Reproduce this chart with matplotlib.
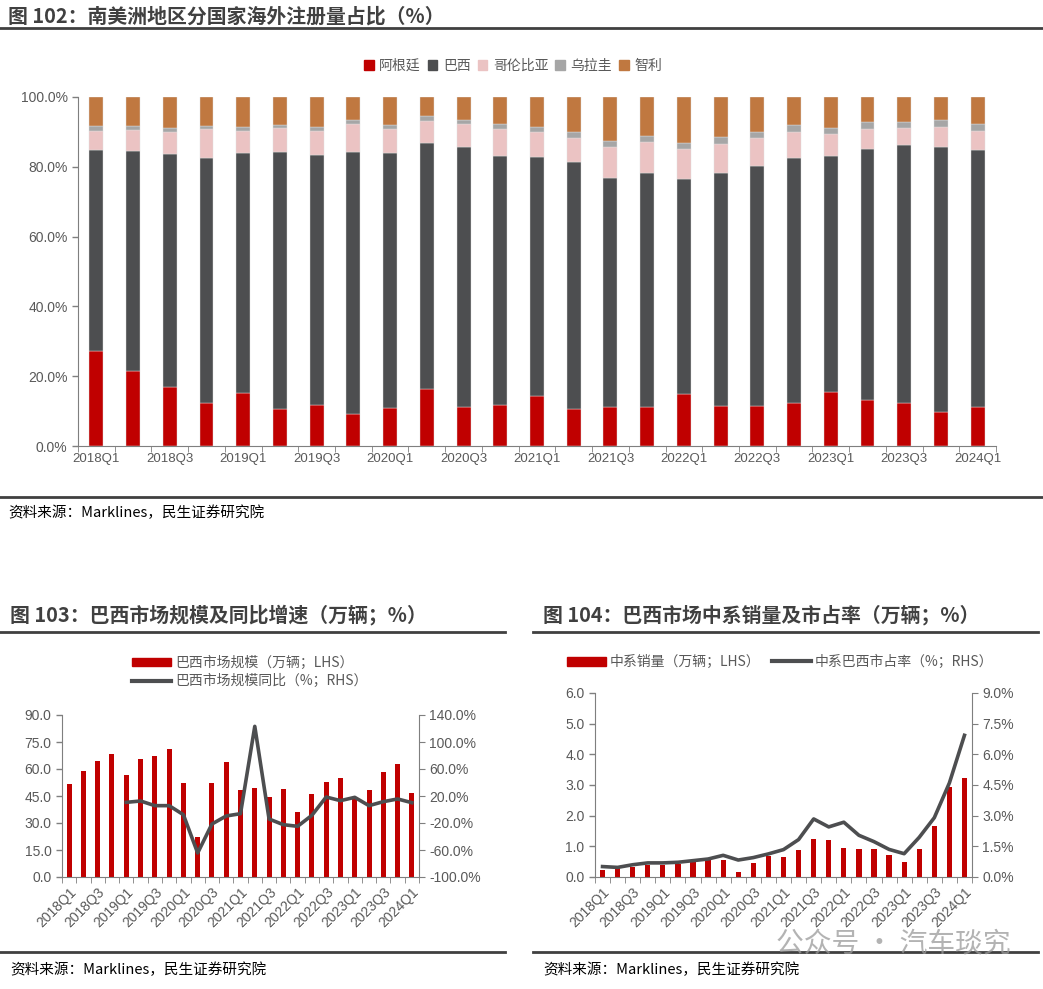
import matplotlib
matplotlib.use('Agg')
import matplotlib.pyplot as plt
import numpy as np
from matplotlib.lines import Line2D
from matplotlib.patches import Patch

plt.rcParams['font.family'] = ['Noto Sans CJK SC', 'DejaVu Sans']
plt.rcParams['axes.unicode_minus'] = False
NUMFONT = ['Liberation Sans', 'DejaVu Sans']

# quarters 2018Q1 .. 2024Q1
quarters = ['%dQ%d' % (y, q) for y in range(2018, 2025) for q in range(1, 5)][:25]

# fig 102: share by country (%)
argentina = [27.2, 21.6, 16.8, 12.2, 15.2, 10.5, 11.7, 9.2, 10.8, 16.3, 11.2, 11.7, 14.2,
             10.6, 11.2, 11.2, 14.9, 11.4, 11.4, 12.2, 15.4, 13.3, 12.2, 9.7, 11.2]
brazil = [57.5, 62.9, 66.9, 70.3, 68.7, 73.8, 71.6, 75.1, 73.1, 70.5, 74.5, 71.5, 68.5,
          70.8, 65.6, 66.9, 61.5, 66.8, 68.8, 70.3, 67.6, 71.9, 74.0, 76.0, 73.5]
colombia = [5.7, 6.1, 6.3, 8.2, 6.4, 6.7, 7.1, 8.1, 6.9, 6.4, 6.5, 7.6, 7.2,
            6.9, 8.8, 8.9, 8.6, 8.4, 8.1, 7.5, 6.3, 5.6, 4.9, 5.7, 5.6]
uruguay = [1.4, 1.0, 1.1, 1.1, 1.1, 1.1, 1.1, 1.1, 1.2, 1.4, 1.2, 1.4, 1.6,
           1.7, 1.8, 1.7, 1.9, 1.8, 1.7, 1.9, 1.9, 2.0, 1.8, 2.0, 1.9]
chile = [100 - a - b - c - u for a, b, c, u in zip(argentina, brazil, colombia, uruguay)]
countries = ['阿根廷', '巴西', '哥伦比亚', '乌拉圭', '智利']

# fig 103: Brazil market size (10k units) and YoY (%)
brazil_size = [51.9, 59.1, 64.3, 68.1, 56.9, 65.7, 67.2, 70.9, 52.2, 22.4, 52.2, 64.1, 48.3,
               49.4, 44.6, 48.9, 36.1, 46.3, 52.8, 54.8, 44.0, 48.3, 58.3, 62.6, 46.9]
brazil_yoy = [None, None, None, None, 10.6, 12.6, 5.7, 5.7, -7.7, -64.4, -21.5, -9.6, -6.2,
              123.2, -14.1, -22.5, -24.9, -8.6, 18.5, 13.1, 18.0, 5.7, 11.6, 15.6, 10.1]

# fig 104: Chinese brands sales in Brazil (10k units) and share (%)
cn_sales = [0.24, 0.28, 0.33, 0.38, 0.38, 0.42, 0.50, 0.55, 0.54, 0.16, 0.47, 0.70, 0.64,
            0.89, 1.24, 1.20, 0.96, 0.92, 0.90, 0.73, 0.48, 0.90, 1.67, 2.93, 3.22]
cn_share = [0.51, 0.47, 0.60, 0.69, 0.69, 0.72, 0.80, 0.88, 1.06, 0.83, 0.95, 1.13, 1.34,
            1.83, 2.84, 2.45, 2.68, 2.04, 1.73, 1.35, 1.14, 1.94, 2.90, 4.60, 6.93]

RED = '#C00000'
DARK = '#4D4E50'
PINK = '#EBC3C3'
GRAY = '#A6A6A6'
BROWN = '#C07840'
TXT = '#595959'
AX = '#7F7F7F'

fig = plt.figure(figsize=(10.43, 9.89), dpi=100)
W, H = 1043.0, 989.0


def fx(px):
    return px / W


def fy(py):
    return 1 - py / H


def hline(y, x0, x1):
    fig.add_artist(Line2D([fx(x0), fx(x1)], [fy(y), fy(y)], color='#404040', lw=2))


# titles, rules, sources
fig.text(fx(8), fy(16), '图 102：南美洲地区分国家海外注册量占比（%）', fontsize=14.3,
         fontweight='bold', color='#404040', va='center')
hline(27.5, 0, 1043)
hline(497, 0, 1043)
fig.text(fx(8), fy(513), '资料来源：Marklines，民生证券研究院', fontsize=10.5, color='black', va='center')

fig.text(fx(10), fy(615), '图 103：巴西市场规模及同比增速（万辆；%）', fontsize=14.3,
         fontweight='bold', color='#404040', va='center')
fig.text(fx(543), fy(615), '图 104：巴西市场中系销量及市占率（万辆；%）', fontsize=14.3,
         fontweight='bold', color='#404040', va='center')
hline(632, 0, 505)
hline(632, 533, 1038)
hline(952, 0, 505)
hline(952, 533, 1038)
fig.text(fx(10), fy(970), '资料来源：Marklines，民生证券研究院', fontsize=10.5, color='black', va='center')
fig.text(fx(543), fy(970), '资料来源：Marklines，民生证券研究院', fontsize=10.5, color='black', va='center')


def style_axis(ax):
    for s in ['top', 'right']:
        ax.spines[s].set_visible(False)
    ax.spines['left'].set_color(AX)
    ax.spines['bottom'].set_color(AX)
    ax.tick_params(colors=TXT, length=4, width=1)
    ax.tick_params(axis='both', color=AX)


# ---- top stacked chart
ax1 = fig.add_axes([fx(78), fy(446), fx(996 - 78), (446 - 97) / H])
x = np.arange(len(quarters))
series = [argentina, brazil, colombia, uruguay, chile]
colors = [RED, DARK, PINK, GRAY, BROWN]
bottom = np.zeros(len(quarters))
for vals, c in zip(series, colors):
    ax1.bar(x, vals, width=0.38, bottom=bottom, color=c, edgecolor='#E0E0E0', linewidth=0.3)
    bottom += np.array(vals)
ax1.set_xlim(-0.5, len(quarters) - 0.5)
ax1.set_ylim(0, 100)
ax1.set_yticks(np.arange(0, 101, 20))
ax1.set_yticklabels(['%.1f%%' % v for v in np.arange(0, 101, 20)], fontsize=10, fontfamily=NUMFONT)
ax1.set_xticks(x[::2])
ax1.set_xticklabels(quarters[::2], fontsize=9.5, fontfamily=NUMFONT)
ax1.set_xticks(np.arange(-0.5, len(quarters)), minor=True)
style_axis(ax1)
ax1.tick_params(axis='x', which='major', length=0, pad=5)
ax1.tick_params(axis='x', which='minor', length=4, color=AX)
handles = [Patch(color=c, label=n) for c, n in zip(colors, countries)]
fig.legend(handles=handles, loc='center', bbox_to_anchor=(fx(513), fy(66)), ncol=5,
           frameon=False, fontsize=10, handlelength=0.7, handleheight=0.7,
           handletextpad=0.4, columnspacing=0.5, labelcolor=TXT)

# ---- bottom left
ax2 = fig.add_axes([fx(62), fy(877), fx(419 - 62), (877 - 715) / H])
ax2.bar(x, brazil_size, width=0.35, color=RED)
ax2.set_xlim(-0.5, len(quarters) - 0.5)
ax2.set_ylim(0, 90)
ax2.set_yticks(np.arange(0, 91, 15))
ax2.set_yticklabels(['%.1f' % v for v in np.arange(0, 91, 15)], fontsize=10, fontfamily=NUMFONT)
ax2.set_xticks(x[::2])
ax2.set_xticklabels(quarters[::2], fontsize=10, rotation=45, ha='right',
                    rotation_mode='anchor', fontfamily=NUMFONT)
ax2.set_xticks(np.arange(-0.5, len(quarters)), minor=True)
style_axis(ax2)
ax2.tick_params(axis='x', which='major', length=0, pad=6)
ax2.tick_params(axis='x', which='minor', length=4, color=AX)
ax2r = ax2.twinx()
yoy = np.array([np.nan if v is None else v for v in brazil_yoy], dtype=float)
ax2r.plot(x, yoy, color=DARK, lw=2.6, solid_joinstyle='round')
ax2r.set_ylim(-100, 140)
ax2r.set_yticks(np.arange(-100, 141, 40))
ax2r.set_yticklabels(['%.1f%%' % v for v in np.arange(-100, 141, 40)], fontsize=10, fontfamily=NUMFONT)
for s in ['top', 'left', 'bottom']:
    ax2r.spines[s].set_visible(False)
ax2r.spines['right'].set_color(AX)
ax2r.tick_params(colors=TXT, color=AX, length=4)
h2 = [Patch(color=RED, label='巴西市场规模（万辆；LHS）'),
      Line2D([], [], color=DARK, lw=3, label='巴西市场规模同比（%；RHS）')]
fig.legend(handles=h2, loc='center', bbox_to_anchor=(fx(250), fy(672)), ncol=1,
           frameon=False, fontsize=10, handlelength=2.8, handleheight=0.6,
           handletextpad=0.3, labelspacing=0.3, labelcolor=TXT)

# ---- bottom right
ax3 = fig.add_axes([fx(595), fy(877), fx(972 - 595), (877 - 693) / H])
ax3.bar(x, cn_sales, width=0.35, color=RED)
ax3.set_xlim(-0.5, len(quarters) - 0.5)
ax3.set_ylim(0, 6)
ax3.set_yticks(np.arange(0, 6.1, 1))
ax3.set_yticklabels(['%.1f' % v for v in np.arange(0, 6.1, 1)], fontsize=10, fontfamily=NUMFONT)
ax3.set_xticks(x[::2])
ax3.set_xticklabels(quarters[::2], fontsize=10, rotation=45, ha='right',
                    rotation_mode='anchor', fontfamily=NUMFONT)
ax3.set_xticks(np.arange(-0.5, len(quarters)), minor=True)
style_axis(ax3)
ax3.tick_params(axis='x', which='major', length=0, pad=6)
ax3.tick_params(axis='x', which='minor', length=4, color=AX)
ax3r = ax3.twinx()
ax3r.plot(x, cn_share, color=DARK, lw=2.6, solid_joinstyle='round')
ax3r.set_ylim(0, 9)
ax3r.set_yticks(np.arange(0, 9.1, 1.5))
ax3r.set_yticklabels(['%.1f%%' % v for v in np.arange(0, 9.1, 1.5)], fontsize=10, fontfamily=NUMFONT)
for s in ['top', 'left', 'bottom']:
    ax3r.spines[s].set_visible(False)
ax3r.spines['right'].set_color(AX)
ax3r.tick_params(colors=TXT, color=AX, length=4)
h3 = [Patch(color=RED, label='中系销量（万辆；LHS）'),
      Line2D([], [], color=DARK, lw=3, label='中系巴西市占率（%；RHS）')]
fig.legend(handles=h3, loc='center', bbox_to_anchor=(fx(780), fy(662)), ncol=2,
           frameon=False, fontsize=10, handlelength=2.8, handleheight=0.6,
           handletextpad=0.3, columnspacing=0.8, labelcolor=TXT)

# watermark
fig.text(fx(776), fy(944), '公众号 · 汽车琰究', fontsize=20, color='#9A9A9A', alpha=0.75, va='center')

fig.savefig('out.png', dpi=100)
